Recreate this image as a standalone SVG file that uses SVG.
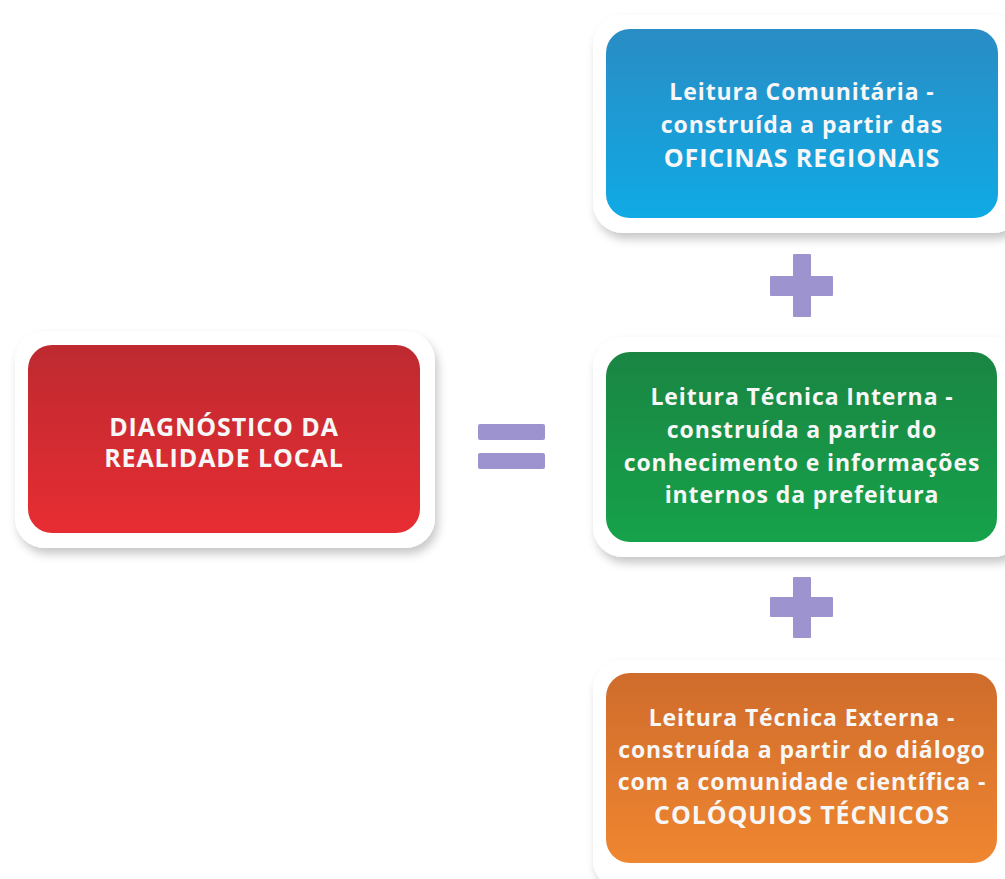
<svg xmlns="http://www.w3.org/2000/svg" width="1005" height="879" viewBox="0 0 1005 879">
<style>
.frame{fill:#ffffff;filter:url(#sh)}
.t{font-family:"Open Sans","Liberation Sans",sans-serif;font-weight:700;font-size:23px;letter-spacing:0.9px;fill:#f7f7f7;text-anchor:middle}
.caps{font-family:"Open Sans","Liberation Sans",sans-serif;font-weight:700;font-size:25px;letter-spacing:0.9px;fill:#f7f7f7;text-anchor:middle}
.op{fill:#9d93cf}
</style>
<defs>
<filter id="sh" x="-10%" y="-10%" width="125%" height="130%">
<feDropShadow dx="3" dy="6" stdDeviation="5" flood-color="#000" flood-opacity="0.22"/>
</filter>
<linearGradient id="gRed" x1="0" y1="0" x2="0" y2="1"><stop offset="0" stop-color="#bd2a30"/><stop offset="1" stop-color="#e72d33"/></linearGradient>
<linearGradient id="gBlue" x1="0" y1="0" x2="0" y2="1"><stop offset="0" stop-color="#2a8cc4"/><stop offset="1" stop-color="#0faae5"/></linearGradient>
<linearGradient id="gGreen" x1="0" y1="0" x2="0" y2="1"><stop offset="0" stop-color="#1a8543"/><stop offset="1" stop-color="#16a24a"/></linearGradient>
<linearGradient id="gOrange" x1="0" y1="0" x2="0" y2="1"><stop offset="0" stop-color="#cf6c2c"/><stop offset="1" stop-color="#ef8630"/></linearGradient>
</defs>
<rect width="1005" height="879" fill="#ffffff"/>
<g id="diagnostico">
<rect class="frame" x="15" y="331" width="420" height="217" rx="30"/>
<rect x="28" y="345" width="392" height="188" rx="24" fill="url(#gRed)"/>
<text class="caps" x="224" y="436">DIAGNÓSTICO DA</text>
<text class="caps" x="224" y="467">REALIDADE LOCAL</text>
</g>
<g id="leitura-comunitaria">
<rect class="frame" x="593" y="15" width="430" height="218" rx="30"/>
<rect x="606" y="29" width="392" height="189" rx="24" fill="url(#gBlue)"/>
<text class="t" x="802" y="100">Leitura Comunitária -</text>
<text class="t" x="802" y="133">construída a partir das</text>
<text class="caps" x="802" y="167">OFICINAS REGIONAIS</text>
</g>
<g id="leitura-tecnica-interna">
<rect class="frame" x="593" y="337" width="430" height="220" rx="30"/>
<rect x="606" y="352" width="391" height="190" rx="24" fill="url(#gGreen)"/>
<text class="t" x="802" y="405">Leitura Técnica Interna -</text>
<text class="t" x="802" y="438">construída a partir do</text>
<text class="t" x="802" y="471">conhecimento e informações</text>
<text class="t" x="802" y="503">internos da prefeitura</text>
</g>
<g id="leitura-tecnica-externa">
<rect class="frame" x="593" y="660" width="430" height="230" rx="30"/>
<rect x="606" y="673" width="391" height="190" rx="24" fill="url(#gOrange)"/>
<text class="t" x="802" y="726">Leitura Técnica Externa -</text>
<text class="t" x="802" y="758">construída a partir do diálogo</text>
<text class="t" x="802" y="790">com a comunidade científica -</text>
<text class="caps" x="802" y="824">COLÓQUIOS TÉCNICOS</text>
</g>
<g id="operators">
<rect class="op" x="478" y="424" width="67" height="16" rx="2"/>
<rect class="op" x="478" y="453" width="67" height="16" rx="2"/>
<rect class="op" x="770" y="276" width="63" height="20" rx="1"/>
<rect class="op" x="793" y="254" width="18" height="63" rx="1"/>
<rect class="op" x="770" y="597" width="63" height="20" rx="1"/>
<rect class="op" x="793" y="577" width="18" height="61" rx="1"/>
</g>
</svg>
